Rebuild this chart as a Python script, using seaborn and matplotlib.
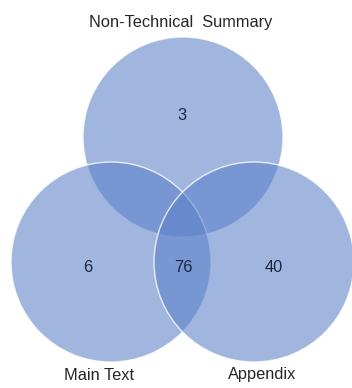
import matplotlib
matplotlib.use("Agg")
import matplotlib.pyplot as plt
from matplotlib.patches import Circle
import seaborn as sns

# Three document sections and the count of items in each Venn region
set_names = ["Non-Technical  Summary", "Main Text", "Appendix"]
region_names = ["summary_only", "main_only", "all_three", "appendix_only"]
region_counts = [3, 6, 76, 40]

sns.set_theme(style="white")
plt.rcParams["font.family"] = ["Liberation Sans", "DejaVu Sans"]

fig = plt.figure(figsize=(3.52, 3.88), dpi=100)
ax = fig.add_axes([0, 0, 1, 1])
ax.set_xlim(0, 352)
ax.set_ylim(388, 0)
ax.set_aspect("equal")
ax.axis("off")

fill = (0.357, 0.506, 0.788, 0.58)
edge = (1, 1, 1, 0.8)
radius = 100
centers = [(183, 137), (111, 262), (254, 262)]
for cx, cy in centers:
    ax.add_patch(Circle((cx, cy), radius, facecolor=fill, edgecolor=edge, linewidth=1.0))

# Set names placed around the circles
name_pos = [(181, 22), (99, 375), (262, 375)]
for name, (x, y) in zip(set_names, name_pos):
    ax.text(x, y, name, ha="center", va="center", fontsize=11.8, color="#262626")

# Region counts
count_pos = [(182, 116), (88, 268), (183, 268), (274, 268)]
for n, (x, y) in zip(region_counts, count_pos):
    ax.text(x, y, str(n), ha="center", va="center", fontsize=11.8, color="#1c2744")

fig.savefig("out.png", dpi=100, facecolor="white")
